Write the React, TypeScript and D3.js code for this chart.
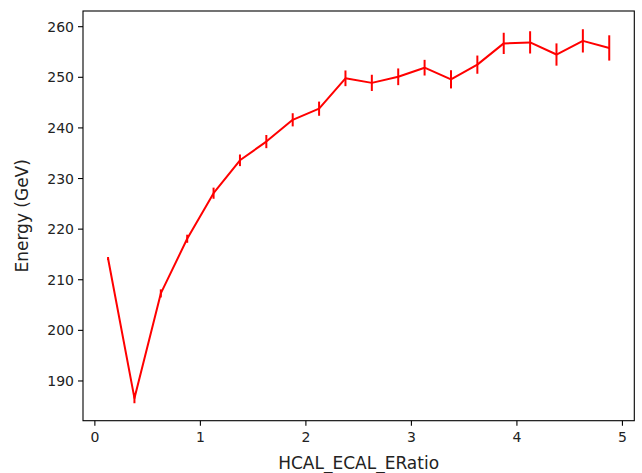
import React from "react";
import * as d3 from "d3";

const xValues = [0.125, 0.375, 0.625, 0.875, 1.125, 1.375, 1.625, 1.875, 2.125, 2.375, 2.625, 2.875, 3.125, 3.375, 3.625, 3.875, 4.125, 4.375, 4.625, 4.875];
const energy = [214.2, 186.6, 207.3, 218.1, 227.1, 233.6, 237.3, 241.6, 243.8, 249.8, 248.9, 250.1, 251.9, 249.6, 252.5, 256.7, 256.9, 254.5, 257.2, 255.8];
const errors = [0.3, 1.0, 0.8, 0.8, 1.1, 1.15, 1.3, 1.3, 1.4, 1.55, 1.6, 1.65, 1.55, 1.8, 1.8, 2.1, 2.2, 2.2, 2.3, 2.5];
const xTicks = [0, 1, 2, 3, 4, 5];
const yTicks = [190, 200, 210, 220, 230, 240, 250, 260];

const W = 642, H = 473;
const L = 83, R = 634.3, T = 11, B = 420.7;

export default function App() {
  const x = d3.scaleLinear().domain([-0.1125, 5.1125]).range([L, R]);
  const y = d3.scaleLinear().domain([182.15, 263.1]).range([B, T]);
  const pts = xValues.map((xv, i) => [xv, energy[i]] as [number, number]);
  const line = d3.line<[number, number]>().x(d => x(d[0])).y(d => y(d[1]));
  const font = "DejaVu Sans, sans-serif";
  return (
    <svg width={W} height={H} style={{ position: "absolute", left: 0, top: 0, background: "#fff" }}>
      <rect x={0} y={0} width={W} height={H} fill="#fff" />
      <path d={line(pts) || ""} fill="none" stroke="#ff0000" strokeWidth={2} strokeLinejoin="round" />
      {pts.map((p, i) => (
        <line key={i} x1={x(p[0])} x2={x(p[0])} y1={y(p[1] - errors[i])} y2={y(p[1] + errors[i])} stroke="#ff0000" strokeWidth={2} />
      ))}
      <rect x={L} y={T} width={R - L} height={B - T} fill="none" stroke="#000" strokeWidth={1.1} />
      {xTicks.map(t => (
        <g key={t}>
          <line x1={x(t)} x2={x(t)} y1={B} y2={B + 5} stroke="#000" strokeWidth={1.1} />
          <text x={x(t)} y={B + 21} textAnchor="middle" fontFamily={font} fontSize={14} fill="#222">{t}</text>
        </g>
      ))}
      {yTicks.map(t => (
        <g key={t}>
          <line x1={L - 5} x2={L} y1={y(t)} y2={y(t)} stroke="#000" strokeWidth={1.1} />
          <text x={L - 9} y={y(t) + 5} textAnchor="end" fontFamily={font} fontSize={14} fill="#222">{t}</text>
        </g>
      ))}
      <text x={(L + R) / 2} y={469} textAnchor="middle" fontFamily={font} fontSize={17} fill="#222">HCAL_ECAL_ERatio</text>
      <text transform={`translate(28,${(T + B) / 2}) rotate(-90)`} textAnchor="middle" fontFamily={font} fontSize={17} fill="#222">Energy (GeV)</text>
    </svg>
  );
}
